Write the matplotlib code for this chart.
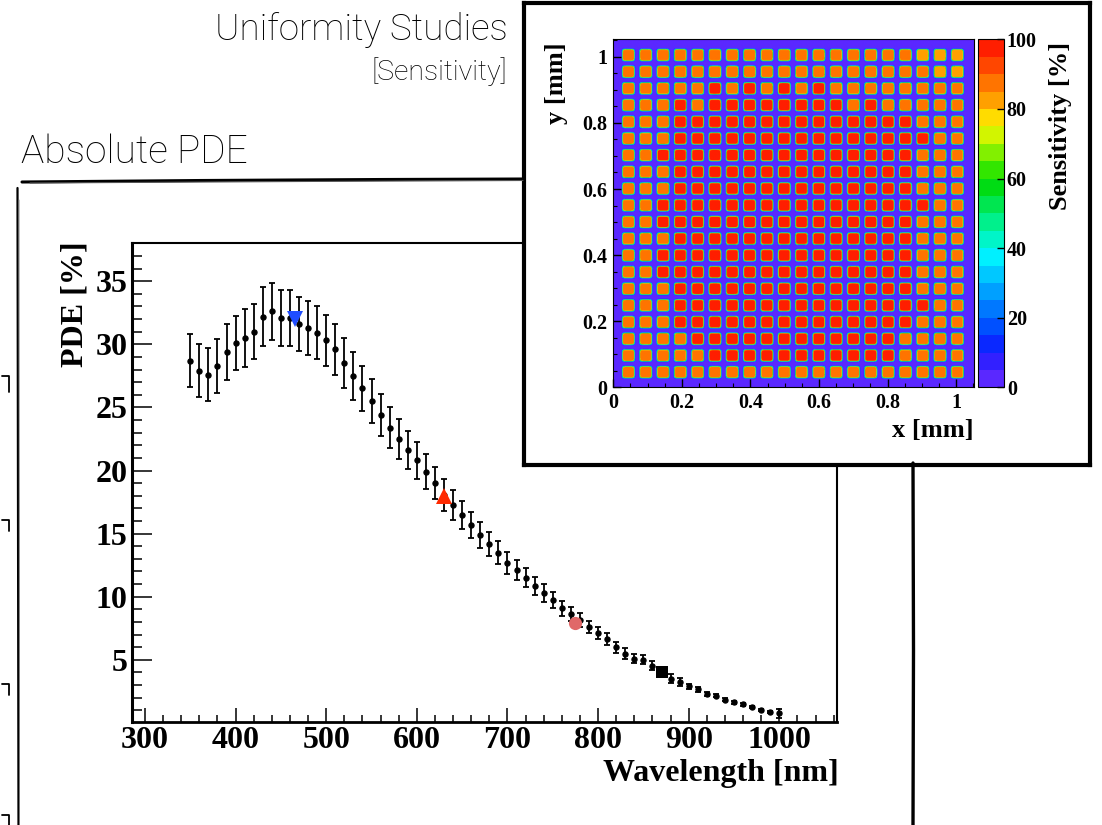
import numpy as np
import matplotlib
matplotlib.use("Agg")
import matplotlib.pyplot as plt
from matplotlib.colors import ListedColormap, BoundaryNorm
from matplotlib.lines import Line2D
from matplotlib.ticker import MultipleLocator

# ---------------- data ----------------
wavelength_nm = [350, 360, 370, 380, 390, 400, 410, 420, 430, 440,
                 450, 460, 470, 480, 490, 500, 510, 520, 530, 540,
                 550, 560, 570, 580, 590, 600, 610, 620, 630, 640,
                 650, 660, 670, 680, 690, 700, 710, 720, 730, 740,
                 750, 760, 770, 780, 790, 800, 810, 820, 830, 840,
                 850, 860, 870, 880, 890, 900, 910, 920, 930, 940,
                 950, 960, 970, 980, 990, 1000]
pde_percent = [28.7, 27.9, 27.6, 28.3, 29.4, 30.1, 30.5, 31.0, 32.2, 32.6,
               32.1, 32.1, 31.6, 31.3, 30.9, 30.3, 29.6, 28.5, 27.5, 26.5,
               25.5, 24.4, 23.4, 22.5, 21.6, 20.8, 19.9, 19.0, 18.05, 17.3,
               16.5, 15.7, 14.9, 14.2, 13.5, 12.7, 12.1, 11.5, 10.85, 10.3,
               9.75, 9.1, 8.6, 8.15, 7.6, 7.1, 6.65, 6.0, 5.5, 5.1,
               5.0, 4.55, 4.05, 3.5, 3.25, 2.9, 2.67, 2.3, 2.17, 1.85,
               1.64, 1.48, 1.25, 1.0, 0.87, 0.77]
pde_error = [2.12, 2.09, 2.07, 2.15, 2.2, 2.17, 2.3, 2.17, 2.33, 2.25,
             2.22, 2.2, 2.17, 2.12, 2.1, 2.0, 2.0, 1.96, 1.88, 1.8,
             1.75, 1.7, 1.64, 1.59, 1.5, 1.48, 1.38, 1.27, 1.27, 1.19,
             1.11, 1.05, 1.0, 0.95, 0.9, 0.86, 0.8, 0.75, 0.72, 0.68,
             0.64, 0.6, 0.56, 0.53, 0.5, 0.48, 0.5, 0.42, 0.4, 0.38,
             0.36, 0.34, 0.3, 0.36, 0.29, 0.2, 0.18, 0.15, 0.15, 0.12,
             0.12, 0.1, 0.1, 0.08, 0.08, 0.35]

led_wavelength_nm = [465, 630, 775, 870]
led_pde_percent = [32.0, 18.0, 7.9, 4.05]
led_markers = ['v', '^', 'o', 's']
led_colors = ['#1f4dff', '#ff2a00', '#e06868', '#000000']
led_sizes = [11, 11, 9.5, 8]

x_ticks = [300, 400, 500, 600, 700, 800, 900, 1000]
y_ticks = [5, 10, 15, 20, 25, 30, 35]

# sensitivity map (20 x 20 micro-cells), rows listed from top (y~1 mm) to bottom
cell_rows = [
    "bbbbbbbbbbbbbbbbbaaa",
    "bbbbbbbbbbbbbbbbbbaa",
    "bbbbbcbcbcbcbbbbbbbb",
    "bbbcbccccccccbcbbbbb",
    "bbbccccccccccccccbbb",
    "bbbcccccccccccccccbb",
    "bbcccccccccccccccbbb",
    "bbbccccccccccccccbbb",
    "bbbccccccccccccccbbb",
    "bbccccccccccccccccbb",
    "bbcccccccccccccccbbb",
    "bbbccccccccccccccbbb",
    "bbcccccccccccccccbbb",
    "bbcccccccccccccccbbb",
    "bbbccccccccccccccbbb",
    "bbbcccccccccccccccbb",
    "bbbccccccccccccccbbb",
    "bbbbccccccccccccbbbb",
    "bbbbbcccccccccccbbbb",
    "bbbbbbbbbbbbbbbbbbbb",
]
cell_level = {'a': 83, 'b': 87, 'c': 96}
cell_centers_mm = [0.045, 0.0955, 0.146, 0.1965, 0.247, 0.2975, 0.348, 0.3985,
                   0.449, 0.4995, 0.55, 0.6005, 0.651, 0.7015, 0.752, 0.8025,
                   0.853, 0.9035, 0.954, 1.0045]
map_ticks = [0, 0.2, 0.4, 0.6, 0.8, 1]
map_tick_labels = ['0', '0.2', '0.4', '0.6', '0.8', '1']
sens_ticks = [0, 20, 40, 60, 80, 100]
sens_levels = [0, 5, 10, 15, 20, 25, 30, 35, 40, 45, 50,
               55, 60, 65, 70, 75, 80, 85, 90, 95, 100]
palette = ["#5a28ff", "#3220ff", "#0a28ff", "#0050ff", "#0078ff",
           "#00a0ff", "#00c8ff", "#00f0ff", "#00f5c8", "#00f08c",
           "#00e650", "#00dc14", "#32e600", "#82f000", "#d2f500",
           "#ffdc00", "#ffa000", "#ff7400", "#ff4600", "#ff1e00"]

# ---------------- layout helpers (pixel coords of a 1102x825 canvas) -------
W, H = 1102, 825
fig = plt.figure(figsize=(W / 100, H / 100), dpi=100)
fig.patch.set_facecolor('white')


def rect(x0, y0, x1, y1):
    return [x0 / W, 1 - y1 / H, (x1 - x0) / W, (y1 - y0) / H]


def fline(xs, ys, lw, color='black', alpha=1.0):
    fig.add_artist(Line2D([x / W for x in xs], [1 - y / H for y in ys],
                          transform=fig.transFigure, lw=lw, color=color,
                          alpha=alpha, solid_capstyle='round'))


serif = dict(family='Liberation Serif', weight='bold')
thin = dict(family='Roboto', weight='light')

# ---------------- hand-drawn frames ----------------
fline([22, 200, 380, 523], [182, 180.5, 179.5, 179], 2.2)
fline([30, 300, 523], [183, 181.5, 180.5], 0.8, color='#555555')
fline([17.5, 18, 18.5], [188, 500, 825], 1.6)
fline([19, 19.5], [200, 825], 0.6, color='#777777')
fline([913, 913.5, 913], [463, 650, 825], 2.4)
for y0, y1 in [(376, 392), (520, 531), (684, 695), (815, 826)]:
    fline([2, 9, 9], [y0, y0, y1], 1.3)

fig.text(21 / W, 1 - 152 / H, 'Absolute PDE', fontsize=28, ha='left',
         va='center', color='black', **thin)
fig.text(508 / W, 1 - 30 / H, 'Uniformity Studies', fontsize=26.5, ha='right',
         va='center', color='black', **thin)
fig.text(507 / W, 1 - 72 / H, '[Sensitivity]', fontsize=20.5, ha='right',
         va='center', color='black', **thin)

# ---------------- main PDE plot ----------------
ax = fig.add_axes(rect(132.3, 243.3, 837.3, 721.7))
ax.errorbar(wavelength_nm, pde_percent, yerr=pde_error, fmt='o', ms=3.6,
            color='black', ecolor='black', elinewidth=1.3, capsize=2.0,
            capthick=1.3, zorder=3)
for wl, p, m, c, s in zip(led_wavelength_nm, led_pde_percent, led_markers,
                          led_colors, led_sizes):
    ax.plot([wl], [p], marker=m, color=c, ms=s, ls='none', zorder=4,
            markeredgewidth=0)
ax.set_xlim(286, 1064)
ax.set_ylim(0.1, 38.0)
ax.set_xticks(x_ticks)
ax.set_yticks(y_ticks)
ax.xaxis.set_minor_locator(MultipleLocator(20))
ax.yaxis.set_minor_locator(MultipleLocator(1))
ax.xaxis.set_tick_params(which='major', direction='in', length=10, width=1.1,
                         pad=3)
ax.xaxis.set_tick_params(which='minor', direction='in', length=5, width=1.1)
ax.yaxis.set_tick_params(which='major', direction='in', length=14.4,
                         width=1.1, pad=3.5)
ax.yaxis.set_tick_params(which='minor', direction='in', length=7.2, width=1.1)
ax.tick_params(top=False, right=False, which='both')
for lab in ax.get_xticklabels() + ax.get_yticklabels():
    lab.set_fontsize(23)
    lab.set_fontfamily('Liberation Serif')
    lab.set_fontweight('bold')
for side, lw in [('left', 2.2), ('bottom', 2.0), ('top', 1.5), ('right', 1.5)]:
    ax.spines[side].set_linewidth(lw)
fig.text(839 / W, 1 - 773 / H, 'Wavelength [nm]', fontsize=23, ha='right',
         va='center', **serif)
fig.text(75 / W, 1 - 241 / H, 'PDE [%]', fontsize=23, ha='center', va='top',
         rotation=90, **serif)

# ---------------- inset panel ----------------
bg = fig.add_axes(rect(524, 3, 1090, 465))
bg.set_facecolor('white')
bg.set_xticks([])
bg.set_yticks([])
for side in bg.spines:
    bg.spines[side].set_linewidth(3.0)

lim = 1.053
n = 760
g = (np.arange(n) + 0.5) / n * lim
centers = np.array(cell_centers_mm)
idx = np.abs(g[:, None] - centers[None, :]).argmin(axis=1)
off = g - centers[idx]
IX, IY = np.meshgrid(idx, idx)
DX, DY = np.meshgrid(off, off)
dist = (np.abs(DX) ** 6 + np.abs(DY) ** 6) ** (1 / 6)
cell_values = np.array([[cell_level[ch] for ch in row] for row in cell_rows])[::-1]
Z = cell_values[IY, IX] * np.clip((0.0205 - dist) / 0.005, 0, 1)

cmap = ListedColormap(palette)
norm = BoundaryNorm(sens_levels, cmap.N)
hax = fig.add_axes(rect(613.3, 39.3, 974.3, 387.3))
im = hax.imshow(Z, extent=[0, lim, 0, lim], origin='lower', cmap=cmap,
                norm=norm, aspect='auto', interpolation='antialiased')
hax.set_xlim(0, lim)
hax.set_ylim(0, lim)
hax.set_xticks(map_ticks, map_tick_labels)
hax.set_yticks(map_ticks, map_tick_labels)
hax.xaxis.set_minor_locator(MultipleLocator(0.05))
hax.yaxis.set_minor_locator(MultipleLocator(0.05))
hax.tick_params(which='major', direction='in', length=6, width=1.0,
                color='black', top=False, right=False)
hax.tick_params(which='minor', direction='in', length=3, width=0.8,
                color='black', top=False, right=False)
hax.tick_params(axis='x', pad=4)
hax.tick_params(axis='y', pad=4)
for lab in hax.get_xticklabels() + hax.get_yticklabels():
    lab.set_fontsize(14.5)
    lab.set_fontfamily('Liberation Serif')
    lab.set_fontweight('bold')
for side in hax.spines:
    hax.spines[side].set_linewidth(0.8)

cax = fig.add_axes(rect(977.7, 39.3, 1004, 387.3))
cb = fig.colorbar(im, cax=cax, ticks=sens_ticks)
cb.outline.set_linewidth(0.8)
cax.tick_params(which='major', direction='in', length=5, width=1.0, pad=2,
                color='black')
cax.minorticks_off()
for lab in cax.get_yticklabels():
    lab.set_fontsize(14.5)
    lab.set_fontfamily('Liberation Serif')
    lab.set_fontweight('bold')

fig.text(974 / W, 1 - 431 / H, 'x [mm]', fontsize=19, ha='right',
         va='center', **serif)
fig.text(557 / W, 1 - 42 / H, 'y [mm]', fontsize=19, ha='center', va='top',
         rotation=90, **serif)
fig.text(1061 / W, 1 - 42 / H, 'Sensitivity [%]', fontsize=19, ha='center',
         va='top', rotation=90, **serif)

fig.savefig('out.png', dpi=100, facecolor='white')
